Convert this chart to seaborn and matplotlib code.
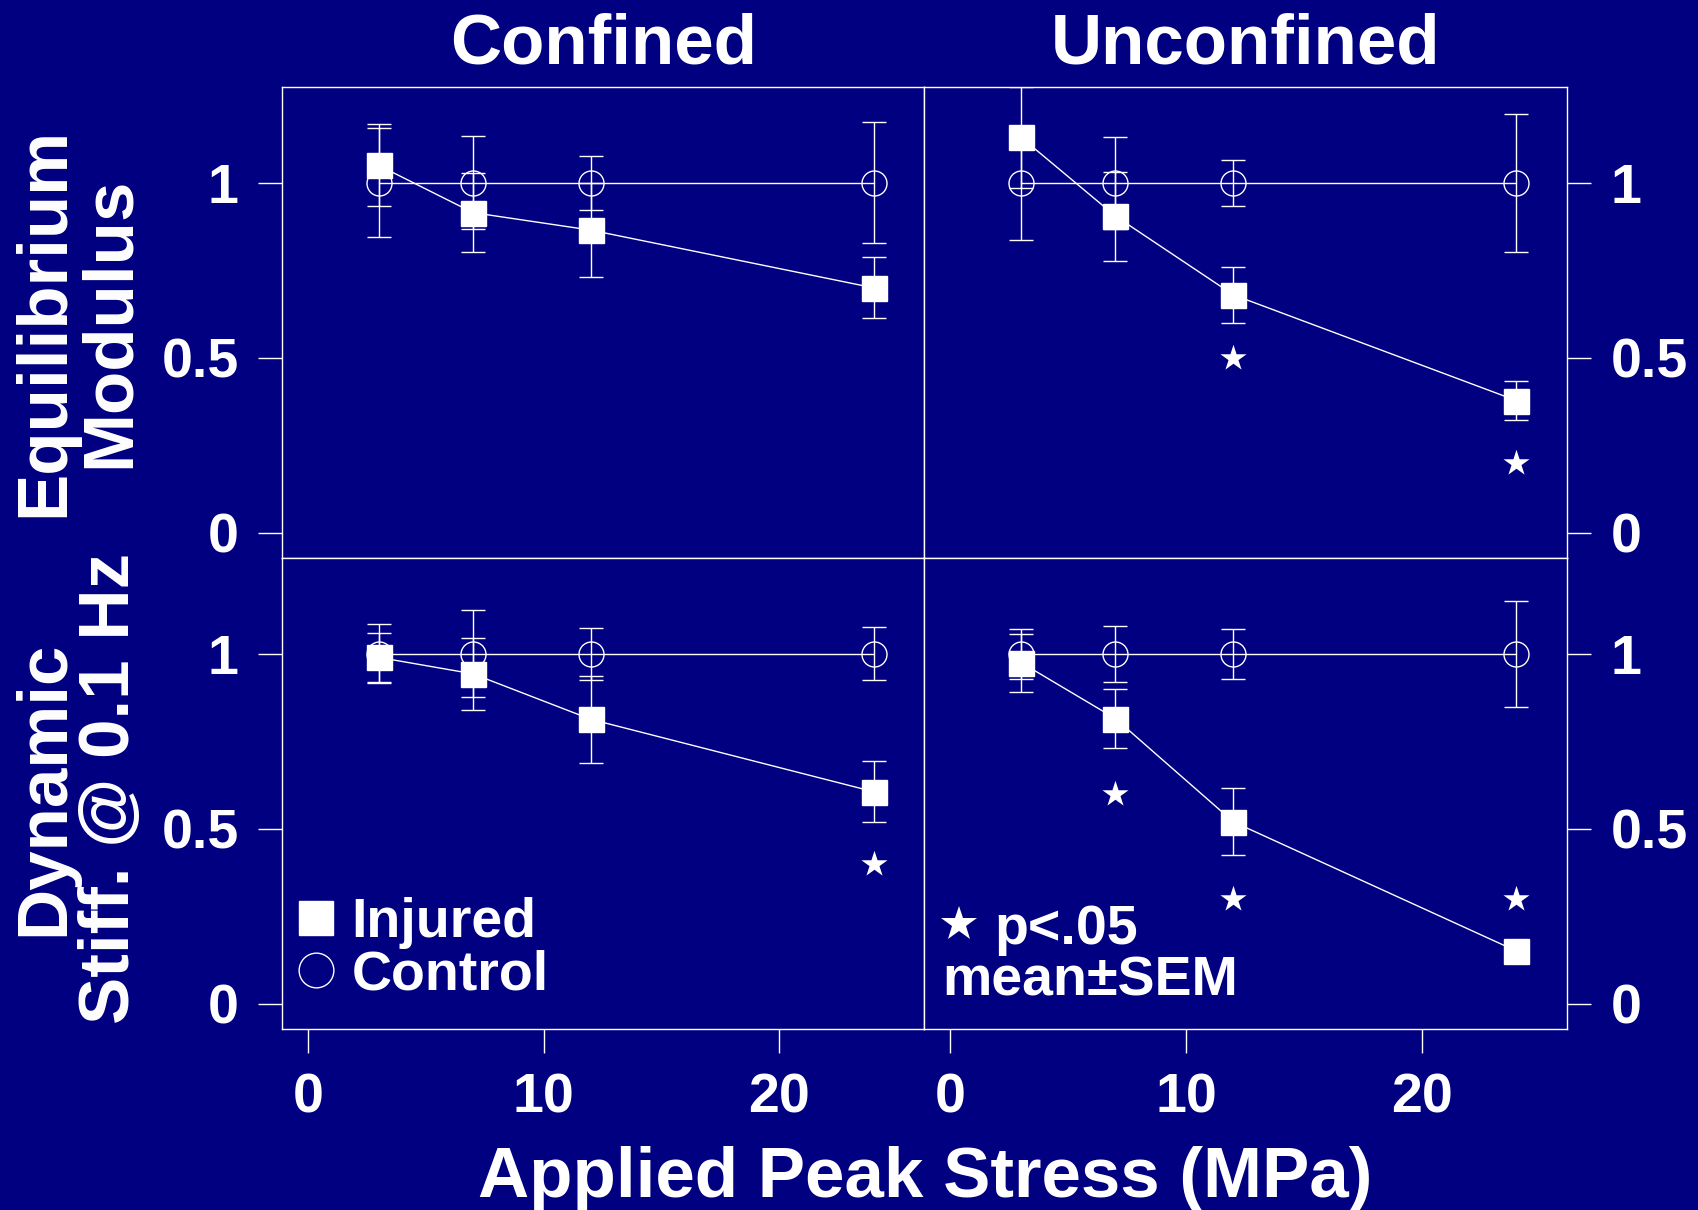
import matplotlib
matplotlib.use("Agg")
import matplotlib.pyplot as plt
from matplotlib.lines import Line2D
import pandas as pd
import seaborn as sns

# ---- data -------------------------------------------------------------
stress = [3, 7, 12, 24]                      # applied peak stress, MPa
conditions = ["Confined", "Unconfined"]
measures = ["Equilibrium\nModulus", "Dynamic\nStiff. @ 0.1 Hz"]

# Equilibrium modulus (normalised to control)
eq_conf_injured = [1.05, 0.915, 0.865, 0.70]
eq_conf_injured_sem = [0.117, 0.113, 0.135, 0.087]
eq_conf_control = [1.0, 1.0, 1.0, 1.0]
eq_conf_control_sem = [0.156, 0.133, 0.078, 0.173]

eq_unconf_injured = [1.13, 0.905, 0.68, 0.378]
eq_unconf_injured_sem = [0.144, 0.127, 0.08, 0.056]
eq_unconf_control = [1.0, 1.0, 1.0, 1.0]
eq_unconf_control_sem = [0.162, 0.131, 0.066, 0.198]

# Dynamic stiffness at 0.1 Hz (normalised to control)
dyn_conf_injured = [0.99, 0.943, 0.813, 0.606]
dyn_conf_injured_sem = [0.069, 0.103, 0.124, 0.087]
dyn_conf_control = [1.0, 1.0, 1.0, 1.0]
dyn_conf_control_sem = [0.084, 0.124, 0.074, 0.076]

dyn_unconf_injured = [0.975, 0.815, 0.52, 0.151]
dyn_unconf_injured_sem = [0.083, 0.084, 0.096, 0.02]
dyn_unconf_control = [1.0, 1.0, 1.0, 1.0]
dyn_unconf_control_sem = [0.072, 0.079, 0.071, 0.152]

# significance markers (p < .05)
eq_conf_star_x, eq_conf_star_y = [], []
eq_unconf_star_x, eq_unconf_star_y = [12, 24], [0.5, 0.2]
dyn_conf_star_x, dyn_conf_star_y = [24], [0.4]
dyn_unconf_star_x, dyn_unconf_star_y = [7, 12, 24], [0.6, 0.3, 0.3]

x_ticks = [0, 10, 20]
y_ticks = [0, 0.5, 1]
y_tick_labels = ["0", "0.5", "1"]

series = {
    (0, 0): (eq_conf_injured, eq_conf_injured_sem, eq_conf_control, eq_conf_control_sem),
    (0, 1): (eq_unconf_injured, eq_unconf_injured_sem, eq_unconf_control, eq_unconf_control_sem),
    (1, 0): (dyn_conf_injured, dyn_conf_injured_sem, dyn_conf_control, dyn_conf_control_sem),
    (1, 1): (dyn_unconf_injured, dyn_unconf_injured_sem, dyn_unconf_control, dyn_unconf_control_sem),
}
stars = {
    (0, 0): (eq_conf_star_x, eq_conf_star_y),
    (0, 1): (eq_unconf_star_x, eq_unconf_star_y),
    (1, 0): (dyn_conf_star_x, dyn_conf_star_y),
    (1, 1): (dyn_unconf_star_x, dyn_unconf_star_y),
}

rows = []
for (r, c), (inj, inj_err, ctl, ctl_err) in series.items():
    for group, vals, errs in (("Control", ctl, ctl_err), ("Injured", inj, inj_err)):
        for s, v, e in zip(stress, vals, errs):
            rows.append(dict(row=r, col=c, group=group, stress=s, value=v, err=e))
df = pd.DataFrame(rows)

# ---- style ------------------------------------------------------------
NAVY = "#000080"
sns.set_style("ticks", rc={
    "axes.facecolor": NAVY, "figure.facecolor": NAVY,
    "axes.edgecolor": "white", "axes.linewidth": 1.0,
    "xtick.color": "white", "ytick.color": "white",
    "text.color": "white", "axes.labelcolor": "white",
})
plt.rcParams["font.family"] = ["Liberation Sans", "DejaVu Sans"]
plt.rcParams["font.weight"] = "bold"

TICK_FS = 40
LABEL_FS = 51

fig, axes = plt.subplots(2, 2, figsize=(16.99, 12.10), dpi=100)
fig.subplots_adjust(left=282 / 1699, right=1567 / 1699,
                    top=1 - 87 / 1210, bottom=1 - 1029 / 1210,
                    wspace=0, hspace=0)

for r in range(2):
    for c in range(2):
        ax = axes[r, c]
        sub = df[(df.row == r) & (df.col == c)]
        ctl = sub[sub.group == "Control"]
        inj = sub[sub.group == "Injured"]

        ax.errorbar(ctl.stress, ctl.value, yerr=ctl.err, fmt="none",
                    ecolor="white", elinewidth=1, capsize=8.6, capthick=1, zorder=2)
        sns.lineplot(data=ctl, x="stress", y="value", ax=ax, color="white",
                     linewidth=1, marker="o", markersize=18,
                     markerfacecolor="none", markeredgecolor="white",
                     markeredgewidth=1, errorbar=None, zorder=3)

        ax.errorbar(inj.stress, inj.value, yerr=inj.err, fmt="none",
                    ecolor="white", elinewidth=1, capsize=8.6, capthick=1, zorder=4)
        sns.lineplot(data=inj, x="stress", y="value", ax=ax, color="white",
                     linewidth=1, marker="s", markersize=18,
                     markerfacecolor="white", markeredgecolor="white",
                     markeredgewidth=1, errorbar=None, zorder=5)

        sx, sy = stars[(r, c)]
        if sx:
            sns.scatterplot(x=sx, y=sy, ax=ax, marker="*", s=390,
                            color="white", linewidth=0, zorder=6)

        ax.set_xlim(-1.1, 26.15)
        ax.set_ylim(-0.072, 1.274)
        ax.set_xticks(x_ticks)
        ax.set_yticks(y_ticks)
        ax.set_yticklabels(y_tick_labels)
        ax.set_xlabel("")
        ax.set_ylabel("")
        for sp in ax.spines.values():
            sp.set_visible(True)
            sp.set_color("white")
            sp.set_linewidth(1)
        ax.tick_params(axis="both", direction="out", length=17.3, width=1,
                       pad=14, labelsize=TICK_FS, colors="white")
        if r == 0:
            ax.tick_params(axis="x", bottom=False, labelbottom=False)
        if c == 1:
            ax.yaxis.tick_right()
            ax.tick_params(axis="y", left=False, labelleft=False,
                           right=True, labelright=True)
        for lab in ax.get_xticklabels() + ax.get_yticklabels():
            lab.set_fontweight("bold")

for c, cond in enumerate(conditions):
    axes[0, c].set_title(cond, fontsize=LABEL_FS, fontweight="bold",
                         color="white", pad=17)

# row labels
for r, (measure, yc) in enumerate(zip(measures, [1 - 322 / 1210, 1 - 788 / 1210])):
    fig.text(0.046, yc, measure, rotation=90, ha="center", va="center",
             multialignment="center", fontsize=LABEL_FS, fontweight="bold",
             linespacing=0.98, color="white")

fig.text(925 / 1699, 1 - 1197 / 1210, "Applied Peak Stress (MPa)",
         ha="center", va="baseline", fontsize=LABEL_FS, fontweight="bold",
         color="white")

# group key
h_inj = Line2D([], [], marker="s", ls="none", markersize=25,
               markerfacecolor="white", markeredgecolor="white")
h_ctl = Line2D([], [], marker="o", ls="none", markersize=25,
               markerfacecolor="none", markeredgecolor="white", markeredgewidth=1)
axes[1, 0].legend([h_inj, h_ctl], ["Injured", "Control"], loc="lower left",
                  bbox_to_anchor=(0.025, 0.059), frameon=False,
                  prop={"size": TICK_FS, "weight": "bold"},
                  handlelength=0.65, handletextpad=0.31, labelspacing=0.0,
                  borderpad=0, borderaxespad=0, labelcolor="white")

# significance key
h_star = Line2D([], [], marker="*", ls="none", markersize=26.5,
                markerfacecolor="white", markeredgecolor="white", markeredgewidth=0)
axes[1, 1].legend([h_star], ["p<.05"], loc="lower left",
                  bbox_to_anchor=(0.026, 0.1553), frameon=False,
                  prop={"size": TICK_FS, "weight": "bold"},
                  handlelength=0.65, handletextpad=0.31,
                  borderpad=0, borderaxespad=0, labelcolor="white")
axes[1, 1].text(0.028, 0.0713, "mean\u00b1SEM", transform=axes[1, 1].transAxes,
                ha="left", va="baseline", fontsize=TICK_FS, fontweight="bold",
                color="white")

fig.savefig("out.png", dpi=100, facecolor=NAVY)
